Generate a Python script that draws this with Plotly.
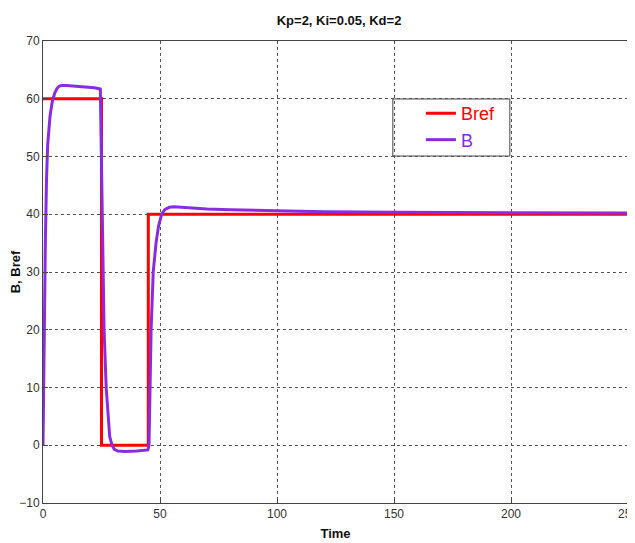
import plotly.graph_objects as go

# Reference step (Bref)
bref_t = [0, 25, 25, 45, 45, 250]
bref_y = [60, 60, 0, 0, 40, 40]

# System response (B)
b_t = [0, 0.3, 0.6, 1.0, 1.5, 2.0, 3.0, 4.0, 5.0, 6.0, 7.0, 8.0, 10, 14, 18, 22, 24.5,
       24.8, 25.2, 25.6, 26.1, 27.0, 28.0, 28.5, 29.5, 30.5, 32, 35, 40, 44.8,
       45.3, 45.7, 46.2, 47.1, 48.3, 49.4, 50.7, 52, 54, 56, 60, 70, 80, 100, 120, 150, 200, 250]
b_y = [0, 12, 24, 35, 46, 52, 57, 59.6, 61.0, 61.8, 62.2, 62.3, 62.3, 62.2, 62.0, 61.9, 61.7,
       55, 40, 30, 20, 10, 4, 1.5, 0, -0.7, -1.0, -1.1, -1.0, -0.8,
       0, 10, 20, 30, 35, 38, 40, 40.8, 41.2, 41.3, 41.2, 40.9, 40.8, 40.6, 40.45, 40.35, 40.25, 40.2]

x_ticks = [0, 50, 100, 150, 200, 250]
y_ticks = [-10, 0, 10, 20, 30, 40, 50, 60, 70]

FONT = "Liberation Sans Narrow, Liberation Sans, Arial, sans-serif"

fig = go.Figure()
fig.add_trace(go.Scatter(x=bref_t, y=bref_y, mode="lines",
                         name="<span style='color:#ff0000'>Bref</span>",
                         line=dict(color="#ff0000", width=3)))
fig.add_trace(go.Scatter(x=b_t, y=b_y, mode="lines",
                         name="<span style='color:#8a2be2'>B</span>",
                         line=dict(color="#8a2be2", width=3)))

axis_common = dict(showline=True, linecolor="#444", linewidth=1, mirror=True,
                   ticks="inside", ticklen=5, tickcolor="#444",
                   showgrid=True, gridcolor="#555", griddash="dot", gridwidth=1,
                   zeroline=False, automargin=False, ticklabeloverflow="allow",
                   tickfont=dict(family=FONT, size=12, color="#333"))

fig.update_xaxes(range=[0, 250], tickvals=x_ticks,
                 title=dict(text="<b>Time</b>", font=dict(family=FONT, size=13, color="#111"), standoff=8),
                 **axis_common)
fig.update_yaxes(range=[-10, 70], tickvals=y_ticks,
                 title=dict(text="<b>B, Bref</b>", font=dict(family=FONT, size=13, color="#111"), standoff=2),
                 **axis_common)

fig.add_shape(type="rect", xref="paper", yref="paper",
              x0=0.598, x1=0.798, y0=0.751, y1=0.8745,
              line=dict(color="#444", width=1), fillcolor="white", layer="below")

fig.update_layout(
    width=627, height=535,
    margin=dict(l=35, r=7, t=33, b=40),
    paper_bgcolor="white", plot_bgcolor="rgba(0,0,0,0)",
    title=dict(text="<b>Kp=2, Ki=0.05, Kd=2</b>", x=0.528, xanchor="center", y=0.985,
               font=dict(family=FONT, size=13, color="#111")),
    legend=dict(x=0.646, y=0.883, xanchor="left", yanchor="top",
                bgcolor="rgba(0,0,0,0)", borderwidth=0,
                font=dict(family=FONT, size=18), itemwidth=30),
    showlegend=True,
)

fig.write_html("out.html")
